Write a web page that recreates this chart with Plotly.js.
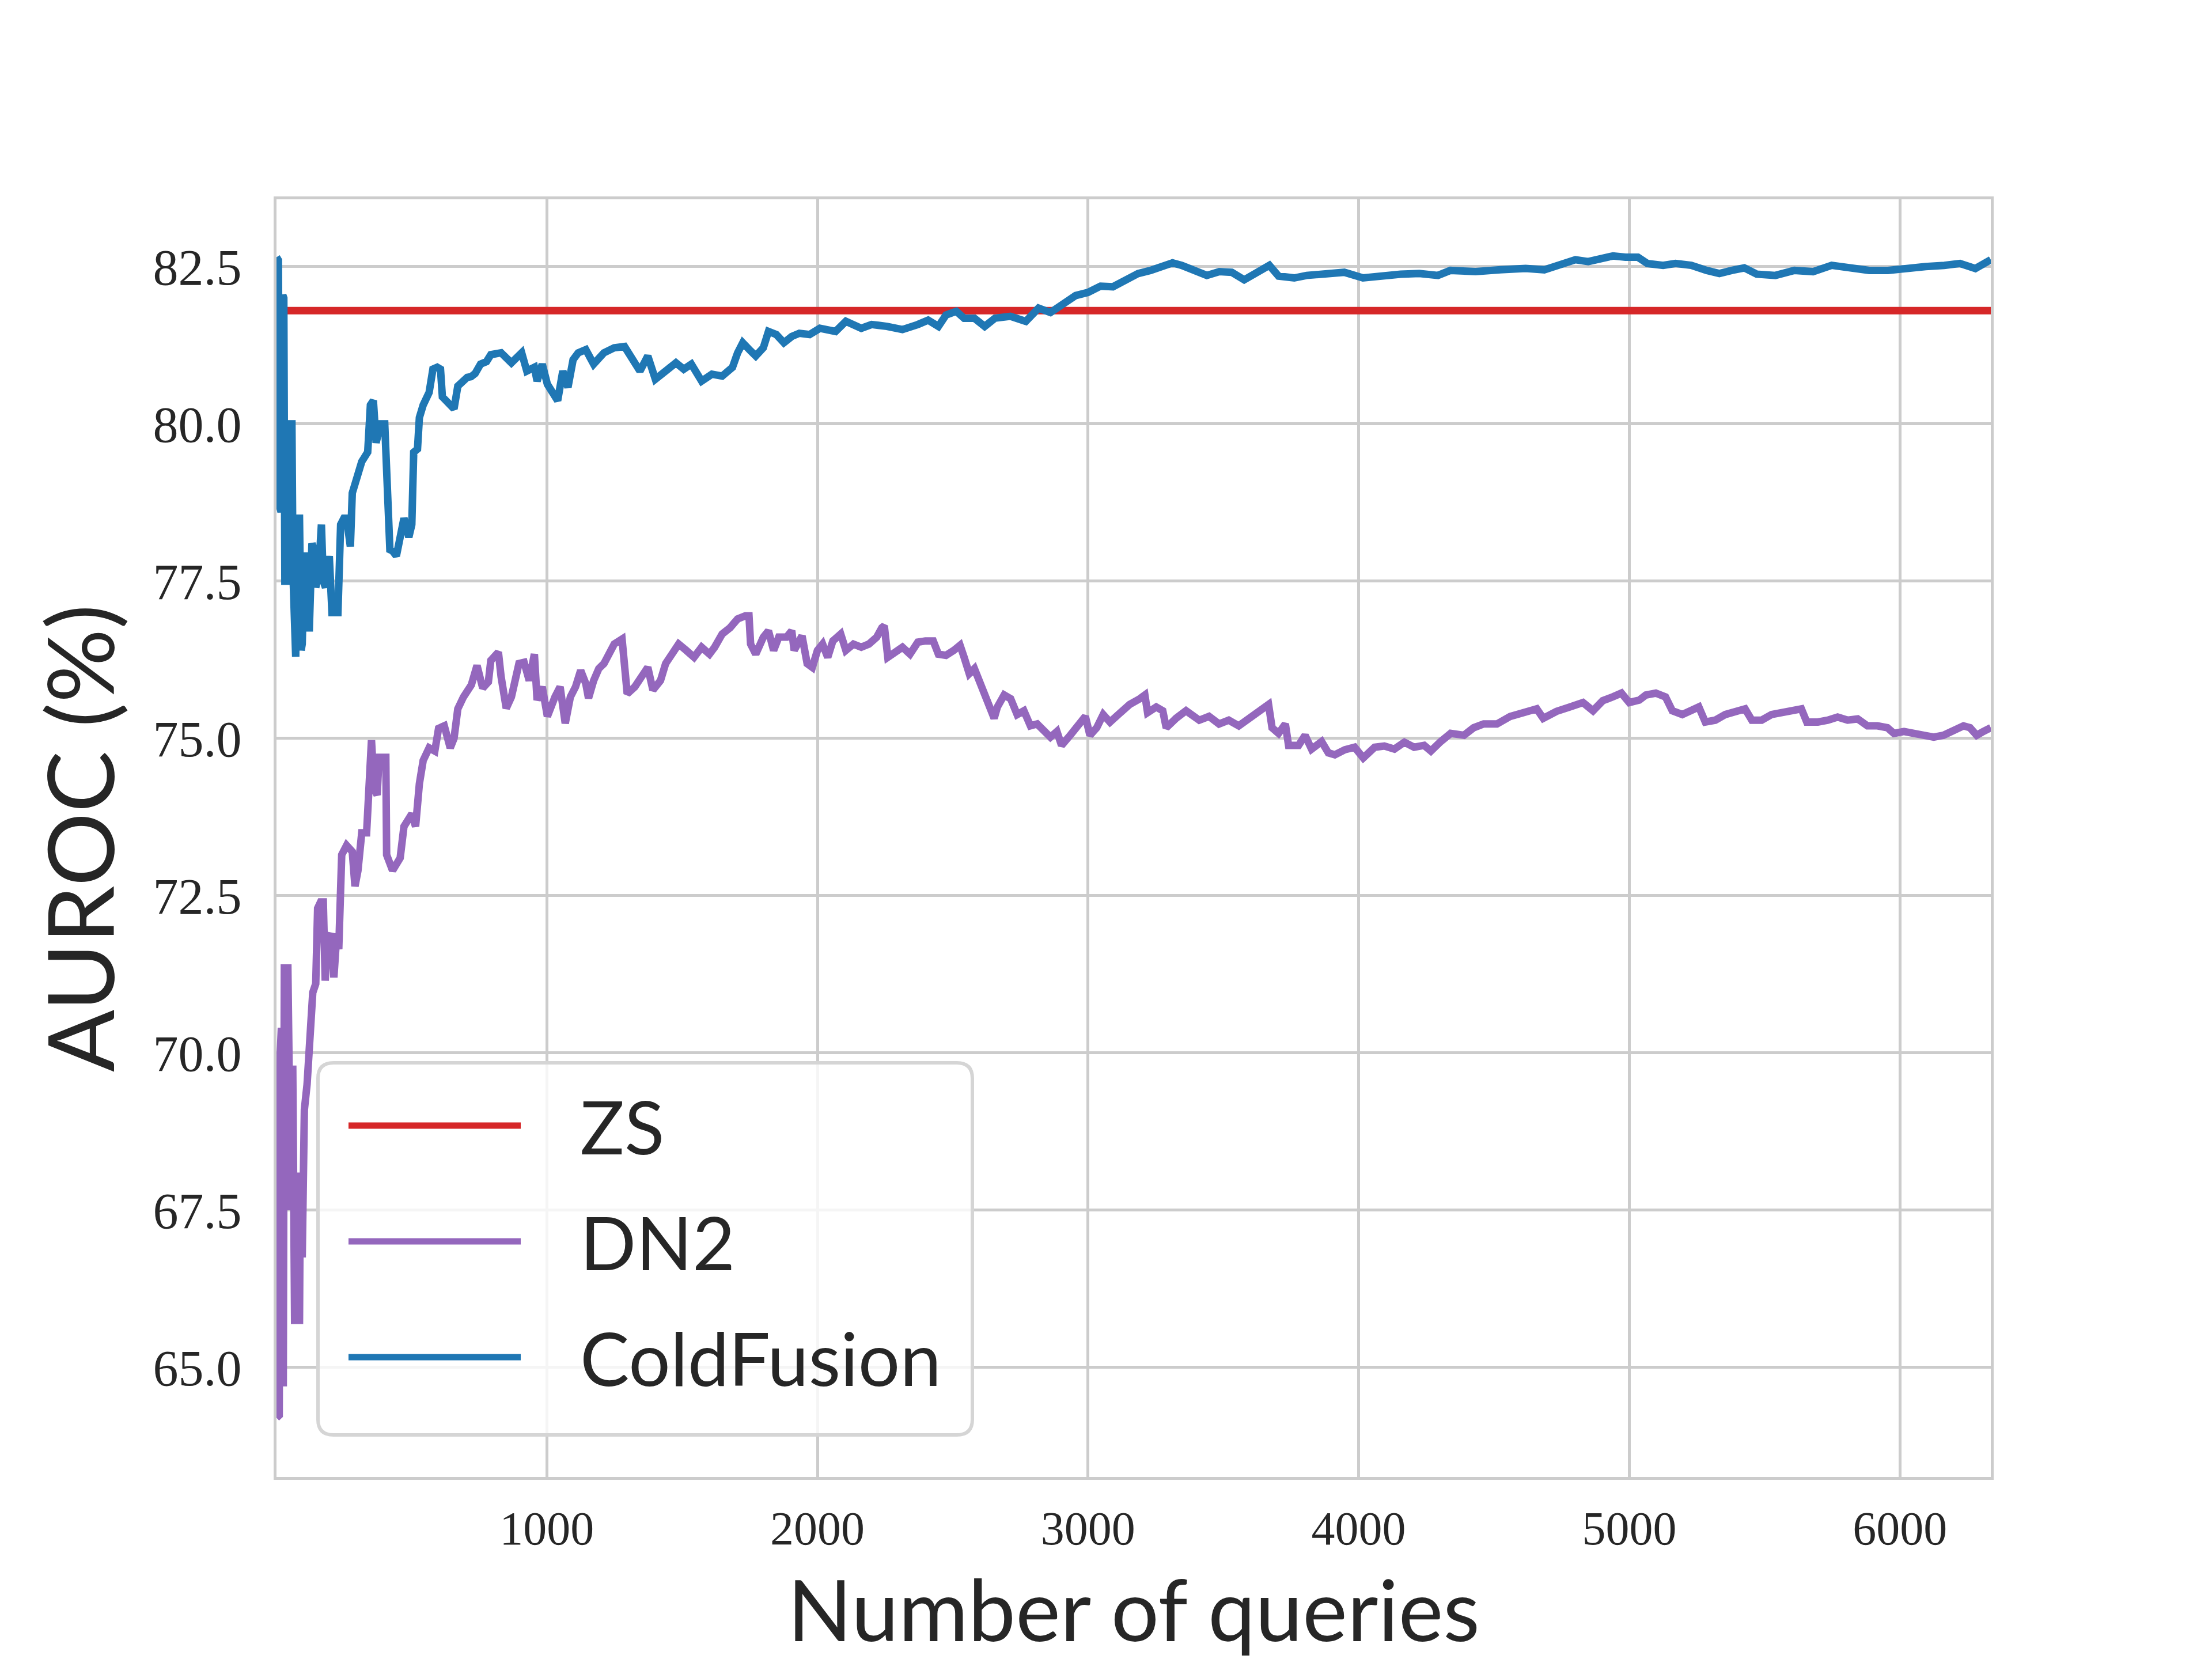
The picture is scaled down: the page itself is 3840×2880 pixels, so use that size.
<!DOCTYPE html>
<html>
<head>
<meta charset="utf-8">
<script src="https://cdn.plot.ly/plotly-3.0.1.min.js"></script>
<style>body{margin:0;background:#fff}</style>
</head>
<body>
<div id="chart" style="width:3840px;height:2880px"></div>
<script>
// values
var zsX = [1, 6336];
var zsY = [81.8, 81.8];

var cfX = [1, 8, 12, 18, 24, 28, 32, 40, 47, 58, 62, 66, 72, 76, 86, 92, 96, 104, 114, 122,
  126, 132, 140, 146, 156, 167, 174, 182, 196, 206, 218, 228, 238, 250, 260, 274, 281, 302, 316, 338,
  348, 359, 369, 380, 387, 401, 412, 420, 430, 444, 458, 472, 490, 501, 508, 522, 529, 543, 565, 579,
  595, 607, 614, 630, 643, 657, 671, 690, 706, 720, 735, 755, 777,
  793, 831, 869, 907, 926, 954, 964, 983, 1002, 1040, 1059, 1078, 1097, 1116, 1144, 1173, 1211, 1249, 1287, 1316,
  1344, 1373, 1401, 1439, 1477, 1506, 1534, 1572, 1610, 1648, 1686, 1705, 1724, 1753, 1772, 1800, 1819, 1848, 1876, 1905,
  1933, 1971, 2009, 2067, 2105, 2162, 2200, 2257, 2314, 2371, 2409, 2447, 2475, 2513, 2542, 2580, 2618, 2656, 2713, 2770, 2817,
  2861, 2908, 2954, 3000, 3046, 3092, 3139, 3185, 3231, 3277, 3312, 3346, 3393, 3439, 3485, 3531, 3577, 3624, 3670, 3704,
  3762, 3808, 3878, 3947, 4016, 4085, 4155, 4224, 4293, 4339, 4432, 4524, 4617, 4686, 4755, 4801, 4848, 4894, 4940, 4986,
  5032, 5067, 5125, 5171, 5229, 5286, 5333, 5379, 5425, 5471, 5540, 5610, 5679, 5748, 5818, 5887, 5956, 6025, 6095, 6164,
  6222, 6279, 6336];
var cfY = [82.65, 82.6, 78.7, 78.6, 82.05, 82.0, 77.5, 77.5, 80.0, 80.0, 77.6, 76.3, 76.3, 78.5, 78.5, 76.4, 76.5, 77.9, 77.9, 76.7,
  77.2, 78.1, 78.0, 77.4, 77.6, 78.4, 77.5, 77.4, 77.9, 77.0, 77.0, 77.0, 78.4, 78.5, 78.5, 78.05, 78.9, 79.2, 79.4, 79.55,
  80.3, 80.37, 79.7, 79.9, 80.0, 80.0, 78.4, 78.0, 77.98, 77.9, 78.2, 78.5, 78.2, 78.4, 79.55, 79.6, 80.1, 80.3, 80.5, 80.87,
  80.9, 80.87, 80.43, 80.35, 80.3, 80.24, 80.6, 80.7, 80.74, 80.75, 80.8, 80.95, 80.99,
  81.1, 81.13, 80.97, 81.13, 80.84, 80.9, 80.68, 80.95, 80.63, 80.37, 80.84, 80.58, 81.02, 81.13, 81.18, 80.95, 81.13, 81.21, 81.23, 81.05,
  80.84, 81.08, 80.71, 80.84, 80.97, 80.87, 80.95, 80.68, 80.79, 80.76, 80.9, 81.13, 81.29, 81.16, 81.08, 81.21, 81.47, 81.42, 81.29, 81.39,
  81.44, 81.42, 81.52, 81.47, 81.63, 81.52, 81.58, 81.55, 81.5, 81.58, 81.65, 81.55, 81.73, 81.79, 81.68, 81.68, 81.55, 81.68, 81.71, 81.63, 81.84,
  81.77, 81.89, 82.04, 82.09, 82.19, 82.18, 82.27, 82.39, 82.44, 82.5, 82.56, 82.52, 82.44, 82.36, 82.42, 82.41, 82.29, 82.42, 82.52, 82.35,
  82.32, 82.36, 82.39, 82.41, 82.32, 82.36, 82.38, 82.39, 82.36, 82.44, 82.42, 82.45, 82.47, 82.45, 82.55, 82.61, 82.58, 82.64, 82.67, 82.65,
  82.65, 82.55, 82.52, 82.55, 82.52, 82.44, 82.39, 82.44, 82.48, 82.38, 82.36, 82.44, 82.42, 82.52, 82.47, 82.44, 82.44, 82.48, 82.5, 82.52,
  82.55, 82.47, 82.61];

var dn2X = [1, 11, 15, 19, 26, 30, 43, 47, 54, 61, 68, 86, 89, 96, 104, 114, 125, 135, 146, 153,
  164, 174, 181, 188, 203, 213, 224, 231, 242, 260, 281, 291, 302, 316, 334, 345, 352, 362, 373, 380,
  405, 408, 430, 458, 472, 501, 515, 529, 543, 565, 586, 600, 621, 643, 657, 671, 692, 721, 742, 763, 784,
  793, 821, 831, 850, 869, 897, 916, 935, 954, 964, 983, 1002, 1030, 1049, 1068, 1087, 1106, 1125, 1144, 1154,
  1173, 1192, 1211, 1230, 1249, 1278, 1297, 1325, 1354, 1373, 1392, 1420, 1439, 1468, 1487, 1515, 1544, 1572, 1601, 1620,
  1648, 1677, 1705, 1734, 1747, 1753, 1772, 1800, 1819, 1838, 1857, 1886, 1905, 1914, 1943, 1962, 1981, 2000, 2019, 2038,
  2057, 2086, 2105, 2133, 2162, 2190, 2219, 2238, 2247, 2260, 2285, 2314, 2342, 2371, 2399, 2428, 2447, 2475, 2504, 2527,
  2542, 2561, 2580,
  2616, 2641, 2653, 2665, 2690, 2714, 2738, 2763, 2787, 2812, 2836, 2861, 2885, 2902, 2934, 2966, 2990, 3007, 3032, 3056,
  3081, 3117, 3154, 3191, 3210, 3220, 3252, 3276, 3289, 3325, 3362, 3411, 3447, 3484, 3520, 3557, 3606, 3643, 3667, 3680,
  3704, 3729, 3741, 3778, 3802, 3826, 3863, 3888, 3912, 3949, 3985, 4017, 4059, 4095, 4132, 4169, 4205, 4242, 4267, 4303,
  4340, 4389, 4425, 4462, 4511, 4560, 4609, 4658, 4682, 4731, 4780, 4829, 4866, 4902, 4939, 4971, 5000, 5037, 5061, 5098,
  5134, 5159, 5196, 5232, 5257, 5281, 5318, 5355, 5391, 5428, 5453, 5489, 5526, 5563, 5599, 5636, 5656, 5697, 5734, 5770,
  5807, 5844, 5880, 5917, 5954, 5978, 6015, 6051, 6088, 6125, 6161, 6198, 6235, 6259, 6284, 6308, 6336];
var dn2Y = [64.2, 64.24, 70.0, 70.4, 64.7, 71.35, 71.35, 67.75, 67.5, 69.8, 65.75, 65.75, 68.1, 66.75, 69.1, 69.5, 70.27, 70.96, 71.1, 72.3,
  72.4, 72.4, 71.15, 71.77, 71.9, 71.2, 71.9, 71.65, 73.15, 73.3, 73.2, 72.65, 72.9, 73.5, 73.5, 74.9, 74.97, 74.2, 74.1, 74.7,
  74.7, 73.15, 72.9, 73.1, 73.6, 73.8, 73.6, 74.28, 74.65, 74.85, 74.8, 75.16, 75.2, 74.85, 75.0, 75.47, 75.66, 75.85, 76.16, 75.8, 75.9,
  76.24, 76.37, 75.98, 75.48, 75.66, 76.19, 76.21, 75.92, 76.34, 75.61, 75.82, 75.35, 75.66, 75.82, 75.24, 75.66, 75.82, 76.08, 75.87, 75.64,
  75.92, 76.11, 76.19, 76.37, 76.5, 76.58, 75.71, 75.82, 76.03, 76.13, 75.77, 75.92, 76.19, 76.4, 76.5, 76.4, 76.29, 76.45, 76.34, 76.45,
  76.66, 76.76, 76.9, 76.95, 76.95, 76.5, 76.34, 76.61, 76.71, 76.4, 76.61, 76.61, 76.71, 76.4, 76.63, 76.19, 76.13, 76.4, 76.5, 76.29,
  76.55, 76.66, 76.4, 76.5, 76.45, 76.5, 76.61, 76.76, 76.79, 76.29, 76.37, 76.45, 76.34, 76.53, 76.55, 76.55, 76.34, 76.32, 76.4, 76.48,
  76.29, 76.03, 76.11,
  75.69, 75.44, 75.32, 75.5, 75.69, 75.63, 75.38, 75.44, 75.2, 75.23, 75.14, 75.02, 75.11, 74.89, 75.05, 75.23, 75.35, 75.05, 75.17, 75.38,
  75.26, 75.4, 75.54, 75.63, 75.69, 75.41, 75.5, 75.44, 75.17, 75.32, 75.44, 75.29, 75.35, 75.23, 75.29, 75.2, 75.35, 75.47, 75.54, 75.17,
  75.08, 75.23, 74.89, 74.89, 75.05, 74.83, 74.95, 74.77, 74.74, 74.82, 74.86, 74.69, 74.86, 74.88, 74.83, 74.94, 74.86, 74.89, 74.8, 74.95,
  75.08, 75.05, 75.17, 75.23, 75.23, 75.35, 75.4, 75.47, 75.32, 75.43, 75.5, 75.57, 75.44, 75.6, 75.66, 75.72, 75.57, 75.61, 75.69, 75.72,
  75.66, 75.44, 75.38, 75.44, 75.5, 75.26, 75.29, 75.38, 75.44, 75.47, 75.29, 75.29, 75.38, 75.41, 75.44, 75.47, 75.26, 75.26, 75.29, 75.34,
  75.29, 75.31, 75.2, 75.2, 75.17, 75.08, 75.11, 75.08, 75.05, 75.02, 75.05, 75.14, 75.2, 75.17, 75.05, 75.11, 75.17];

var names = ['ZS', 'DN2', 'ColdFusion'];
var colors = ['#d62728', '#9467bd', '#1f77b4'];
var xTicks = [1000, 2000, 3000, 4000, 5000, 6000];
var yTicks = [65, 67.5, 70, 72.5, 75, 77.5, 80, 82.5];

var W = 3840, H = 2880;
var M = {l: 480, r: 384, t: 346, b: 316};
var ink = '#262626';
var lw = 13;

// pixel -> paper helpers for the legend box
function px(x) { return (x - M.l) / (W - M.l - M.r); }
function py(y) { return (H - M.b - y) / (H - M.t - M.b); }

var series = [[zsX, zsY], [dn2X, dn2Y], [cfX, cfY]];
var data = series.map(function (s, i) {
  return {
    x: s[0], y: s[1], name: names[i], type: 'scatter', mode: 'lines',
    line: {color: colors[i], width: lw}, showlegend: false
  };
});

// legend drawn by hand: matplotlib-style long sample lines in a rounded box
var bx0 = px(552), bx1 = px(1688), by0 = py(2491), by1 = py(1845);
var rx = 27 / (W - M.l - M.r), ry = 27 / (H - M.t - M.b);
var boxPath = 'M' + (bx0 + rx) + ',' + by0 + ' L' + (bx1 - rx) + ',' + by0 +
  ' Q' + bx1 + ',' + by0 + ' ' + bx1 + ',' + (by0 + ry) +
  ' L' + bx1 + ',' + (by1 - ry) + ' Q' + bx1 + ',' + by1 + ' ' + (bx1 - rx) + ',' + by1 +
  ' L' + (bx0 + rx) + ',' + by1 + ' Q' + bx0 + ',' + by1 + ' ' + bx0 + ',' + (by1 - ry) +
  ' L' + bx0 + ',' + (by0 + ry) + ' Q' + bx0 + ',' + by0 + ' ' + (bx0 + rx) + ',' + by0 + ' Z';

var shapes = [{
  type: 'path', xref: 'paper', yref: 'paper', path: boxPath, layer: 'above',
  fillcolor: 'rgba(255,255,255,0.8)', line: {color: '#d5d5d5', width: 6}
}];
var annotations = [];
var rowY = [1954, 2155, 2356];
names.forEach(function (n, i) {
  shapes.push({
    type: 'line', xref: 'paper', yref: 'paper', layer: 'above',
    x0: px(605), x1: px(904), y0: py(rowY[i]), y1: py(rowY[i]),
    line: {color: colors[i], width: 11}
  });
  annotations.push({
    xref: 'paper', yref: 'paper', x: px(1005), y: py(rowY[i]),
    xanchor: 'left', yanchor: 'middle', showarrow: false, text: n,
    font: {family: 'Lato', size: 128, color: ink}
  });
});

var axisCommon = {
  showgrid: true, gridcolor: '#cccccc', gridwidth: 5,
  showline: true, mirror: true, linecolor: '#cccccc', linewidth: 5,
  zeroline: false, ticks: ''
};

var layout = {
  width: W, height: H,
  paper_bgcolor: '#ffffff', plot_bgcolor: '#ffffff',
  margin: M,
  showlegend: false,
  xaxis: Object.assign({}, axisCommon, {
    range: [1, 6336], tickvals: xTicks, ticklabelstandoff: 14,
    tickfont: {family: 'Liberation Serif', size: 82, color: ink},
    title: {text: 'Number of queries', standoff: 72,
      font: {family: 'Lato', size: 147, color: ink}}
  }),
  yaxis: Object.assign({}, axisCommon, {
    range: [63.26, 83.57], tickvals: yTicks, tickformat: '.1f', ticklabelstandoff: 38,
    tickfont: {family: 'Liberation Serif', size: 88, color: ink},
    title: {text: 'AUROC (%)', standoff: 14,
      font: {family: 'Lato', size: 160, color: ink}}
  }),
  shapes: shapes,
  annotations: annotations
};

Plotly.newPlot('chart', data, layout, {displayModeBar: false, staticPlot: true});
</script>
</body>
</html>
